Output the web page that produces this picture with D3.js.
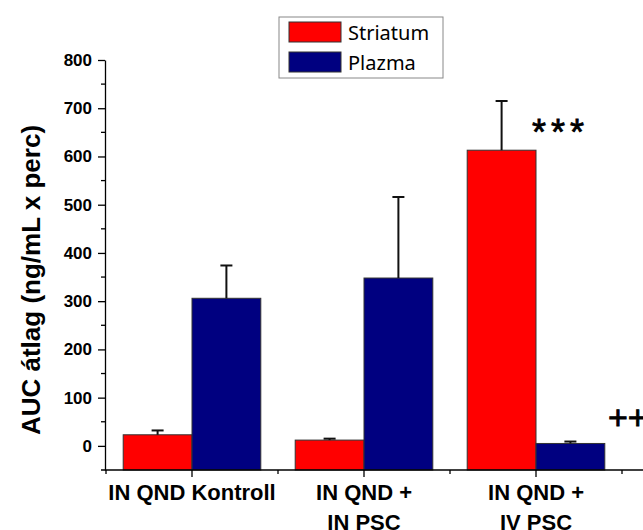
<!DOCTYPE html>
<html>
<head>
<meta charset="utf-8">
<script src="https://cdn.jsdelivr.net/npm/d3@7"></script>
<style>
  body { margin: 0; background: #fff; }
  svg { display: block; }
</style>
</head>
<body>
<svg id="chart" width="643" height="530"></svg>
<script>
// data
var groups = ["IN QND Kontroll", "IN QND +\nIN PSC", "IN QND +\nIV PSC"];
var series = ["Striatum", "Plazma"];
var striatum = [23, 12, 613];
var striatumErr = [9, 3, 102];
var plazma = [306, 348, 5];
var plazmaErr = [68, 168, 4];
var yTicks = [0, 100, 200, 300, 400, 500, 600, 700, 800];
var marks = [{text: "***", group: 2, value: 624, dx: -4}, {text: "++", group: 2, value: 35, dx: 72}];

var colors = {"Striatum": "#ff0000", "Plazma": "#000080"};

var svg = d3.select("#chart"),
    width = +svg.attr("width"),
    height = +svg.attr("height");

var x = d3.scaleBand().domain(groups).range([106, 622]).paddingInner(0.2).paddingOuter(0.1);
var xs = d3.scaleBand().domain(series).range([0, x.bandwidth()]);
var y = d3.scaleLinear().domain([-50, 800]).range([470, 60]);

var rows = groups.map(function(g, i) {
    return [
        {group: g, key: "Striatum", value: striatum[i], err: striatumErr[i]},
        {group: g, key: "Plazma", value: plazma[i], err: plazmaErr[i]}
    ];
});

// bars (Origin draws them from the axis bottom)
var gBars = svg.append("g");
gBars.selectAll("g")
    .data(rows)
    .enter().append("g")
    .selectAll("rect")
    .data(function(d) { return d; })
    .enter().append("rect")
    .attr("x", function(d) { return x(d.group) + xs(d.key); })
    .attr("y", function(d) { return y(d.value); })
    .attr("width", xs.bandwidth())
    .attr("height", function(d) { return y(-50) - y(d.value); })
    .attr("fill", function(d) { return colors[d.key]; })
    .attr("stroke", "#333")
    .attr("stroke-width", 1);

// error bars, upper only
var flat = [].concat.apply([], rows);
var cx = function(d) { return x(d.group) + xs(d.key) + xs.bandwidth() / 2; };
var gErr = svg.append("g").attr("stroke", "#111").attr("stroke-width", 2);
gErr.selectAll("line.v")
    .data(flat)
    .enter().append("line")
    .attr("class", "v")
    .attr("x1", cx).attr("x2", cx)
    .attr("y1", function(d) { return y(d.value); })
    .attr("y2", function(d) { return y(d.value + d.err); });
gErr.selectAll("line.c")
    .data(flat)
    .enter().append("line")
    .attr("class", "c")
    .attr("x1", function(d) { return cx(d) - 6; })
    .attr("x2", function(d) { return cx(d) + 6; })
    .attr("y1", function(d) { return y(d.value + d.err); })
    .attr("y2", function(d) { return y(d.value + d.err); });

// y axis
var yAxis = svg.append("g")
    .attr("transform", "translate(" + 105 + ",0)")
    .call(d3.axisLeft(y).tickValues(yTicks).tickSize(7).tickPadding(6).tickSizeOuter(0));
yAxis.select(".domain").attr("stroke", "#000").attr("stroke-width", 1.3);
yAxis.selectAll(".tick line").attr("stroke-width", 1.3);
yAxis.selectAll("text")
    .attr("font-family", "Liberation Sans, Arial, sans-serif")
    .attr("font-weight", "bold")
    .attr("font-size", 17)
    .attr("fill", "#000");
svg.append("g")
    .attr("stroke", "#000").attr("stroke-width", 1.3)
    .selectAll("line")
    .data(d3.range(50, 800, 100))
    .enter().append("line")
    .attr("x1", 101).attr("x2", 105)
    .attr("y1", function(d) { return y(d); })
    .attr("y2", function(d) { return y(d); });

// x axis
var gx = svg.append("g").attr("transform", "translate(0," + y(-50) + ")");
gx.append("line")
    .attr("x1", 101).attr("x2", width)
    .attr("stroke", "#000").attr("stroke-width", 1.3);
gx.selectAll("line.major")
    .data(groups)
    .enter().append("line")
    .attr("class", "major")
    .attr("x1", function(d) { return x(d) + x.bandwidth() / 2; })
    .attr("x2", function(d) { return x(d) + x.bandwidth() / 2; })
    .attr("y1", 0).attr("y2", 7)
    .attr("stroke", "#000").attr("stroke-width", 1.3);
gx.selectAll("line.minor")
    .data(groups.concat(["end"]))
    .enter().append("line")
    .attr("class", "minor")
    .attr("x1", function(d, i) { return x.range()[0] + i * x.step(); })
    .attr("x2", function(d, i) { return x.range()[0] + i * x.step(); })
    .attr("y1", 0).attr("y2", 4)
    .attr("stroke", "#000").attr("stroke-width", 1.3);
gx.selectAll("text")
    .data(groups)
    .enter().append("text")
    .attr("x", function(d) { return x(d) + x.bandwidth() / 2; })
    .attr("y", 30)
    .attr("text-anchor", "middle")
    .attr("font-family", "Liberation Sans, Arial, sans-serif")
    .attr("font-weight", "bold")
    .attr("font-size", 22)
    .each(function(d) {
        var t = d3.select(this);
        d.split("\n").forEach(function(line, i) {
            t.append("tspan")
                .attr("x", t.attr("x"))
                .attr("dy", i === 0 ? 0 : 30)
                .text(line);
        });
    });

// y title
svg.append("text")
    .attr("transform", "translate(40,280) rotate(-90)")
    .attr("text-anchor", "middle")
    .attr("font-family", "Liberation Sans, Arial, sans-serif")
    .attr("font-weight", "bold")
    .attr("font-size", 26)
    .text("AUC átlag (ng/mL x perc)");

// significance marks
svg.selectAll("text.mark")
    .data(marks)
    .enter().append("text")
    .attr("class", "mark")
    .attr("x", function(d) { return x(groups[d.group]) + x.bandwidth() / 2 + d.dx; })
    .attr("y", function(d) { return y(d.value); })
    .attr("font-family", "Liberation Sans, Arial, sans-serif")
    .attr("font-size", function(d) { return d.text === "***" ? 36 : 34; })
    .attr("letter-spacing", function(d) { return d.text === "***" ? 5 : 0; })
    .attr("stroke", "#000")
    .attr("stroke-width", 0.8)
    .text(function(d) { return d.text; });

// legend
var legend = svg.append("g").attr("transform", "translate(279,17)");
legend.append("rect")
    .attr("width", 164).attr("height", 61)
    .attr("fill", "#fff").attr("stroke", "#888").attr("stroke-width", 1);
var li = legend.selectAll("g.item")
    .data(series)
    .enter().append("g")
    .attr("class", "item")
    .attr("transform", function(d, i) { return "translate(10," + (5 + i * 30) + ")"; });
li.append("rect")
    .attr("width", 52).attr("height", 20)
    .attr("fill", function(d) { return colors[d]; })
    .attr("stroke", "#333").attr("stroke-width", 1);
li.append("text")
    .attr("x", 59).attr("y", 18)
    .attr("font-family", "Noto Sans, sans-serif")
    .attr("font-size", 20)
    .text(function(d) { return d; });
</script>
</body>
</html>
